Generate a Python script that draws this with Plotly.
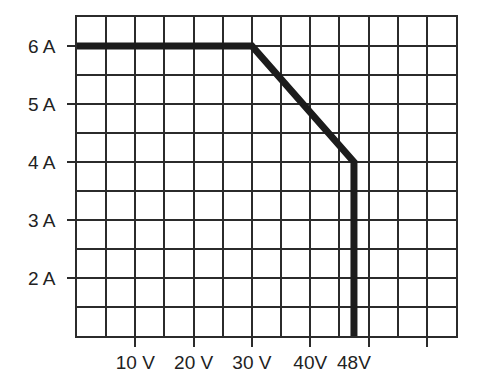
import plotly.graph_objects as go

# data
volts = [0, 30, 47.5, 47.5]
amps = [6, 6, 4, 0.9]
x_label_vals = [10, 20, 30, 40, 47.5]
x_label_text = ["10 V", "20 V", "30 V", "40V", "48V"]
x_tick_marks = [10, 20, 30, 40, 50, 60]
y_label_vals = [2, 3, 4, 5, 6]
y_label_text = ["2 A", "3 A", "4 A", "5 A", "6 A"]

grid_col = "#2b2b2b"
font = dict(family="Liberation Sans, Arial, sans-serif", size=19, color="#222")

fig = go.Figure()
# invisible helper trace so the grid axis is drawn
fig.add_trace(go.Scatter(x=[None], y=[None], xaxis="x2", yaxis="y",
                         mode="lines", showlegend=False, hoverinfo="skip"))
fig.add_trace(go.Scatter(x=volts, y=amps, mode="lines",
                         line=dict(color="#1c1c1c", width=7),
                         showlegend=False, hoverinfo="skip"))

fig.update_layout(
    width=486, height=381,
    margin=dict(l=77, r=30, t=17, b=45),
    paper_bgcolor="white", plot_bgcolor="white",
    font=font,
    xaxis=dict(range=[0, 65], tickmode="array", tickvals=x_label_vals,
               ticktext=x_label_text, ticks="", showgrid=False, zeroline=False,
               showline=True, mirror=True, linecolor=grid_col, linewidth=1.5,
               ticklabelstandoff=8, automargin=False,
               minor=dict(tickmode="array", tickvals=x_tick_marks, ticks="outside",
                          ticklen=9, tickwidth=1.5, tickcolor=grid_col, showgrid=False)),
    xaxis2=dict(range=[0, 65], overlaying="x", side="bottom", tickmode="linear",
                tick0=0, dtick=5, showgrid=True, gridcolor=grid_col, gridwidth=1.5,
                showticklabels=False, ticks="", zeroline=False, showline=False,
                automargin=False),
    yaxis=dict(range=[1, 6.5], tickmode="array", tickvals=y_label_vals,
               ticktext=y_label_text, ticks="outside", ticklen=8, tickwidth=1.5,
               tickcolor=grid_col, showgrid=True, gridcolor=grid_col, gridwidth=1.5,
               zeroline=False, showline=True, mirror=True, linecolor=grid_col,
               linewidth=1.5, ticklabelstandoff=8, automargin=False,
               minor=dict(tickmode="linear", tick0=0, dtick=0.5, showgrid=True,
                          gridcolor=grid_col, gridwidth=1.5, ticks="")),
)
fig.write_html("out.html")
